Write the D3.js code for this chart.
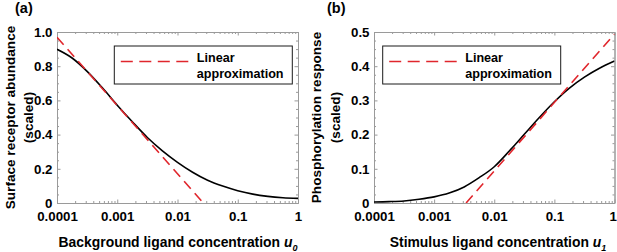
<!DOCTYPE html>
<html><head><meta charset="utf-8">
<script src="https://cdn.jsdelivr.net/npm/d3@7"></script>
<style>
html,body{margin:0;padding:0;background:#fff;}
svg{display:block;font-family:"Liberation Sans",Arial,Helvetica,sans-serif;font-weight:bold;}
</style></head>
<body>
<svg id="chart" width="617" height="252"></svg>
<script>
// ---------- data ----------
const xTickValues = [0.0001, 0.001, 0.01, 0.1, 1];
const xTickLabels = ["0.0001", "0.001", "0.01", "0.1", "1"];
const yTicksA = [0, 0.2, 0.4, 0.6, 0.8, 1.0];
const yTickLabelsA = ["0", "0.2", "0.4", "0.6", "0.8", "1.0"];
const yTicksB = [0, 0.1, 0.2, 0.3, 0.4, 0.5];
const yTickLabelsB = ["0", "0.1", "0.2", "0.3", "0.4", "0.5"];

// concentrations at which curve values were read
const concentration = [0.0001, 0.000178, 0.000316, 0.000562, 0.001, 0.00178, 0.00316, 0.00562,
  0.01, 0.0178, 0.0316, 0.0562, 0.1, 0.178, 0.316, 0.562, 1];
// (a) surface receptor abundance (scaled)
const receptorAbundance = [0.899, 0.848, 0.770, 0.675, 0.572, 0.475, 0.383, 0.305,
  0.238, 0.180, 0.133, 0.099, 0.072, 0.052, 0.039, 0.031, 0.027];
// (b) phosphorylation response (scaled)
const phosphoResponse = [0.003, 0.004, 0.006, 0.011, 0.018, 0.029, 0.047, 0.074,
  0.106, 0.152, 0.201, 0.250, 0.296, 0.336, 0.368, 0.394, 0.415];
// linear approximations (end points)
const linearA_u = [0.0001, 0.0269];
const linearA_v = [0.969, 0];
const linearB_u = [0.0034, 1];
const linearB_v = [0, 0.494];

const legendLabel = ["Linear", "approximation"];

// ---------- drawing ----------
const svg = d3.select("#chart");
const AXIS_GREY = "#9a9a9a";
const RED = "#e0262c";

function panel(cfg) {
  const {left, right, top, bottom, yMax, yTicks, yLabels, yMinorStep, values, linU, linV,
         legendX, yTitle, xTitle, xSub, xTitleX, letter, letterX, id} = cfg;
  const x = d3.scaleLog().domain([0.0001, 1]).range([left, right]);
  const y = d3.scaleLinear().domain([0, yMax]).range([bottom, top]);

  svg.append("clipPath").attr("id", "clip" + id)
    .append("rect").attr("x", left).attr("y", top).attr("width", right - left).attr("height", bottom - top);

  // minor ticks
  const xMinor = [];
  [0.0001, 0.001, 0.01, 0.1].forEach(d => { for (let k = 2; k <= 9; k++) xMinor.push(d * k); });
  const yMinor = d3.range(0, yMax + 1e-9, yMinorStep).filter(v => !yTicks.some(t => Math.abs(t - v) < 1e-9));

  const styleAxis = g => {
    g.selectAll("path.domain").attr("stroke", AXIS_GREY).attr("stroke-width", 1);
    g.selectAll(".tick line").attr("stroke", AXIS_GREY);
  };
  // bottom
  svg.append("g").attr("transform", `translate(0,${bottom})`)
    .call(d3.axisBottom(x).tickValues(xMinor).tickFormat("").tickSize(-2).tickSizeOuter(0)).call(styleAxis);
  svg.append("g").attr("transform", `translate(0,${bottom})`)
    .call(d3.axisBottom(x).tickValues(xTickValues).tickFormat((d, i) => xTickLabels[i]).tickSize(-3.5).tickSizeOuter(0).tickPadding(9))
    .call(styleAxis)
    .call(g => g.selectAll("text").attr("fill", "#000").attr("font-size", 13.3).attr("font-family", null)
      .attr("dx", d => (x(d) + 4 > 617 ? -1.8 : 0)));
  // top
  svg.append("g").attr("transform", `translate(0,${top})`)
    .call(d3.axisTop(x).tickValues(xMinor).tickFormat("").tickSize(-2).tickSizeOuter(0)).call(styleAxis);
  svg.append("g").attr("transform", `translate(0,${top})`)
    .call(d3.axisTop(x).tickValues(xTickValues).tickFormat("").tickSize(-3.5).tickSizeOuter(0)).call(styleAxis);
  // left
  svg.append("g").attr("transform", `translate(${left},0)`)
    .call(d3.axisLeft(y).tickValues(yMinor).tickFormat("").tickSize(-2).tickSizeOuter(0)).call(styleAxis);
  svg.append("g").attr("transform", `translate(${left},0)`)
    .call(d3.axisLeft(y).tickValues(yTicks).tickFormat((d, i) => yLabels[i]).tickSize(-3.5).tickSizeOuter(0).tickPadding(4.5))
    .call(styleAxis)
    .call(g => g.selectAll("text").attr("fill", "#000").attr("font-size", 13.3).attr("font-family", null));
  // right
  svg.append("g").attr("transform", `translate(${right},0)`)
    .call(d3.axisRight(y).tickValues(yMinor).tickFormat("").tickSize(-2).tickSizeOuter(0)).call(styleAxis);
  svg.append("g").attr("transform", `translate(${right},0)`)
    .call(d3.axisRight(y).tickValues(yTicks).tickFormat("").tickSize(-3.5).tickSizeOuter(0)).call(styleAxis);

  // curves
  const pts = concentration.map((u, i) => [u, values[i]]);
  const line = d3.line().x(d => x(d[0])).y(d => y(d[1])).curve(d3.curveMonotoneX);
  const plot = svg.append("g").attr("clip-path", `url(#clip${id})`);
  plot.append("path").datum(pts).attr("d", line)
    .attr("fill", "none").attr("stroke", "#000").attr("stroke-width", 1.6);
  const lin = linU.map((u, i) => [u, linV[i]]);
  plot.append("path").datum(lin).attr("d", d3.line().x(d => x(d[0])).y(d => y(d[1])))
    .attr("fill", "none").attr("stroke", RED).attr("stroke-width", 1.6).attr("stroke-dasharray", "10,6");

  // legend
  const lg = svg.append("g").attr("transform", `translate(${legendX},46)`);
  lg.append("rect").attr("x", 0).attr("y", 0).attr("width", 178).attr("height", 38)
    .attr("fill", "#fff").attr("stroke", "#1a1a1a").attr("stroke-width", 1);
  lg.append("line").attr("x1", 6.5).attr("x2", 74).attr("y1", 15.5).attr("y2", 15.5)
    .attr("stroke", RED).attr("stroke-width", 1.6).attr("stroke-dasharray", "12,6.5");
  lg.append("text").attr("x", 82.5).attr("y", 15.8).attr("font-size", 12.6).text(legendLabel[0]);
  lg.append("text").attr("x", 82.5).attr("y", 32).attr("font-size", 12.6).text(legendLabel[1]);

  // y title
  const cy = (top + bottom) / 2;
  yTitle.forEach((t, i) => {
    svg.append("text")
      .attr("transform", `translate(${cfg.yTitleX[i]},${cy}) rotate(-90)`)
      .attr("text-anchor", "middle").attr("dy", "0.35em").attr("font-size", 13.6).text(t);
  });
  // x title
  const xt = svg.append("text").attr("x", xTitleX).attr("y", 246.5).attr("text-anchor", "middle").attr("font-size", 13.9);
  xt.append("tspan").text(xTitle + " ");
  xt.append("tspan").attr("font-style", "italic").text("u");
  xt.append("tspan").attr("font-style", "italic").attr("font-size", 9).attr("dy", 4).text(xSub);

  // panel letter
  svg.append("text").attr("x", letterX).attr("y", 12.5).attr("font-size", 14.5).text(letter);
}

panel({id: "a", left: 57, right: 298, top: 32, bottom: 203, yMax: 1.0,
  yTicks: yTicksA, yLabels: yTickLabelsA, yMinorStep: 0.05, values: receptorAbundance,
  linU: linearA_u, linV: linearA_v, legendX: 114.3,
  yTitle: ["Surface receptor abundance", "(scaled)"], yTitleX: [10, 28],
  xTitle: "Background ligand concentration", xSub: "0", xTitleX: 178, letter: "(a)", letterX: 15});

panel({id: "b", left: 374, right: 614.5, top: 32, bottom: 203, yMax: 0.5,
  yTicks: yTicksB, yLabels: yTickLabelsB, yMinorStep: 0.025, values: phosphoResponse,
  linU: linearB_u, linV: linearB_v, legendX: 382.7,
  yTitle: ["Phosphorylation response", "(scaled)"], yTitleX: [316.7, 335],
  xTitle: "Stimulus ligand concentration", xSub: "1", xTitleX: 498, letter: "(b)", letterX: 327});
</script>
</body></html>
